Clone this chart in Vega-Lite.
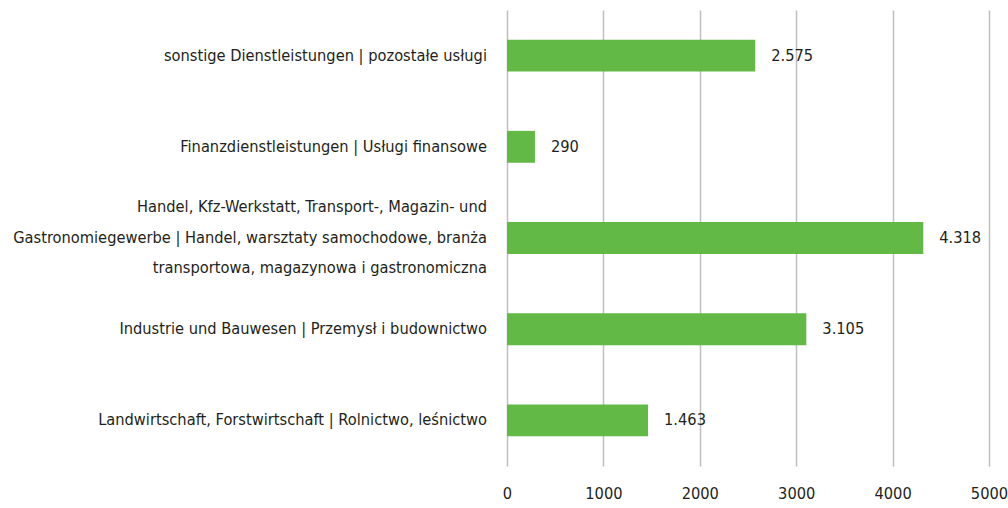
{
  "$schema": "https://vega.github.io/schema/vega-lite/v6.json",
  "width": 482,
  "height": 456,
  "autosize": {"type": "none"},
  "padding": {"left": 507, "top": 10, "right": 19, "bottom": 42},
  "background": "white",
  "config": {
    "locale": {"number": {"decimal": ",", "thousands": ".", "grouping": [3], "currency": ["", " €"]}},
    "view": {"stroke": null},
    "font": "'DejaVu Sans Condensed', 'DejaVu Sans', sans-serif",
    "axis": {"labelFont": "'DejaVu Sans Condensed', 'DejaVu Sans', sans-serif", "labelColor": "#231f20"}
  },
  "data": {
    "values": [
      {"sector": "sonstige Dienstleistungen | pozostałe usługi", "value": 2575},
      {"sector": "Finanzdienstleistungen | Usługi finansowe", "value": 290},
      {"sector": "Handel, Kfz-Werkstatt, Transport-, Magazin- und\nGastronomiegewerbe | Handel, warsztaty samochodowe, branża\ntransportowa, magazynowa i gastronomiczna", "value": 4318},
      {"sector": "Industrie und Bauwesen | Przemysł i budownictwo", "value": 3105},
      {"sector": "Landwirtschaft, Forstwirtschaft | Rolnictwo, leśnictwo", "value": 1463}
    ]
  },
  "encoding": {
    "y": {
      "field": "sector",
      "type": "nominal",
      "sort": null,
      "scale": {"paddingInner": 0.65, "paddingOuter": 0.325},
      "axis": null
    },
    "x": {
      "field": "value",
      "type": "quantitative",
      "scale": {"domain": [0, 5000], "nice": false},
      "axis": {
        "title": null,
        "domain": false,
        "ticks": false,
        "values": [0, 1000, 2000, 3000, 4000, 5000],
        "format": "d",
        "grid": true,
        "gridColor": "#bfbfbf",
        "gridWidth": 1.5,
        "labelPadding": 19,
        "labelFontSize": 16.3,
        "labelFlush": false
      }
    }
  },
  "layer": [
    {"mark": {"type": "bar", "color": "#62b946"}},
    {
      "mark": {"type": "text", "align": "left", "baseline": "middle", "dx": 16, "fontSize": 16.3, "color": "#231f20"},
      "encoding": {"text": {"field": "value", "type": "quantitative", "format": ",d"}}
    },
    {
      "transform": [{"filter": "indexof(datum.sector, '\\n') < 0"}],
      "mark": {"type": "text", "align": "right", "baseline": "middle", "dx": -20, "fontSize": 16.3, "color": "#231f20"},
      "encoding": {"x": {"datum": 0}, "text": {"field": "sector"}}
    },
    {
      "transform": [{"filter": "indexof(datum.sector, '\\n') >= 0"}, {"calculate": "split(datum.sector, '\\n')", "as": "lines"}],
      "mark": {"type": "text", "align": "right", "baseline": "middle", "dx": -20, "dy": -31, "lineHeight": 30.5, "fontSize": 16.3, "color": "#231f20"},
      "encoding": {"x": {"datum": 0}, "text": {"field": "lines"}}
    }
  ]
}
